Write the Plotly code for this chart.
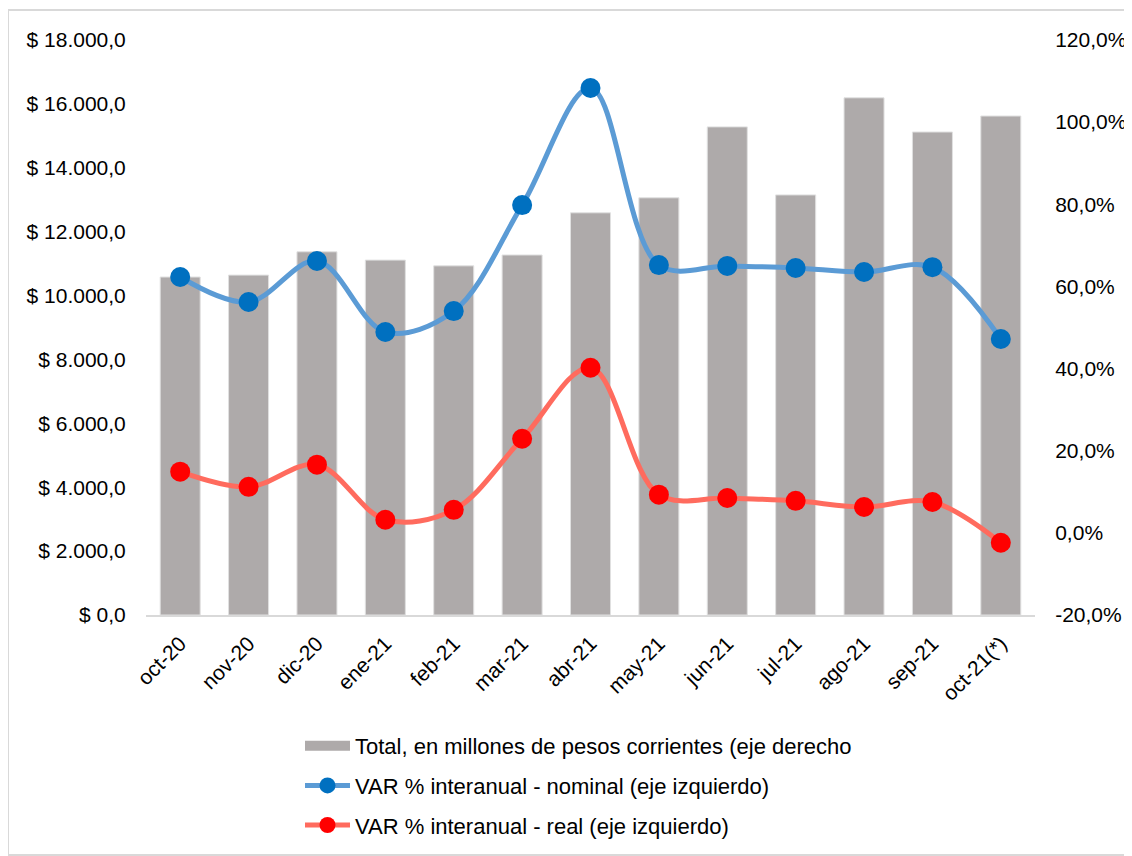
import plotly.graph_objects as go

categories = ["oct-20", "nov-20", "dic-20", "ene-21", "feb-21", "mar-21", "abr-21",
              "may-21", "jun-21", "jul-21", "ago-21", "sep-21", "oct-21(*)"]
total_millones = [10580, 10640, 11370, 11110, 10930, 11270, 12590,
                  13060, 15280, 13150, 16190, 15120, 15620]
var_nominal = [62.3, 56.2, 66.2, 48.9, 54.0, 79.8, 108.3, 65.2, 65.0, 64.5, 63.5, 64.7, 47.2]
var_real = [14.9, 11.2, 16.6, 3.2, 5.6, 22.9, 40.2, 9.3, 8.5, 7.8, 6.3, 7.5, -2.4]

left_ticks = list(range(0, 18001, 2000))
left_text = ["$ " + (f"{v:,.1f}".replace(",", "X").replace(".", ",").replace("X", ".")) for v in left_ticks]
right_ticks = list(range(-20, 121, 20))
right_text = [f"{v:.1f}".replace(".", ",") + "%" for v in right_ticks]

FONT = "Liberation Sans, Arial, sans-serif"
BAR_NAME = "Total, en millones de pesos corrientes (eje derecho"

fig = go.Figure()
fig.add_trace(go.Bar(
    x=categories, y=total_millones, name=BAR_NAME,
    marker=dict(color="#AEAAAA", line=dict(color="#E0E0E0", width=1)),
    width=0.585, yaxis="y", showlegend=False))
# legend entry for the bars (wide rectangle symbol)
fig.add_trace(go.Scatter(
    x=[None], y=[None], name=BAR_NAME, mode="lines",
    line=dict(color="#AEAAAA", width=11), yaxis="y", legendgroup="a"))
fig.add_trace(go.Scatter(
    x=categories, y=var_nominal, name="VAR % interanual - nominal (eje izquierdo)",
    mode="lines+markers", line=dict(color="#5B9BD5", width=5, shape="spline", smoothing=1.0),
    marker=dict(color="#0070C0", size=20), yaxis="y2", legendgroup="b"))
fig.add_trace(go.Scatter(
    x=categories, y=var_real, name="VAR % interanual - real (eje izquierdo)",
    mode="lines+markers", line=dict(color="#FF6B5E", width=5, shape="spline", smoothing=1.0),
    marker=dict(color="#FF0000", size=20), yaxis="y2", legendgroup="c"))

OFF = 8  # page body margin
W, H = 1132 - OFF, 856 - OFF
x0, x1, ytop, ybot = 146 - OFF, 1035 - OFF, 40 - OFF, 615 - OFF
pw, ph = x1 - x0, ybot - ytop

def px_x(p):
    return (p - OFF - x0) / pw

def px_y(p):
    return (ybot - (p - OFF)) / ph

fig.update_layout(
    width=W, height=H,
    margin=dict(l=x0, r=W - x1, t=ytop, b=H - ybot, autoexpand=False),
    paper_bgcolor="white", plot_bgcolor="white",
    font=dict(family=FONT, size=21, color="#000000"),
    showlegend=True,
    legend=dict(x=px_x(300), y=px_y(725), xanchor="left", yanchor="top",
                orientation="v", tracegroupgap=8, font=dict(size=22),
                itemwidth=45, bgcolor="rgba(0,0,0,0)"),
    xaxis=dict(type="category", showgrid=False, showline=True, linecolor="#D9D9D9",
               linewidth=2, tickangle=-45, ticks="outside", ticklen=6,
               tickcolor="rgba(0,0,0,0)", tickfont=dict(size=21),
               range=[-0.5, len(categories) - 0.5]),
    yaxis=dict(range=[0, 18000], tickvals=left_ticks, ticktext=left_text,
               showgrid=False, zeroline=False, showline=False,
               ticks="outside", ticklen=15, tickcolor="rgba(0,0,0,0)",
               tickfont=dict(size=21)),
    yaxis2=dict(range=[-20, 120], tickvals=right_ticks, ticktext=right_text,
                overlaying="y", side="right", showgrid=False, zeroline=False,
                showline=False, ticks="outside", ticklen=15, tickcolor="rgba(0,0,0,0)",
                tickfont=dict(size=21)),
    shapes=[dict(type="rect", xref="paper", yref="paper",
                 x0=px_x(8), x1=px_x(1131), y0=px_y(855), y1=px_y(10),
                 line=dict(color="#D9D9D9", width=2), fillcolor="rgba(0,0,0,0)", layer="below")],
)

fig.write_html("out.html")
